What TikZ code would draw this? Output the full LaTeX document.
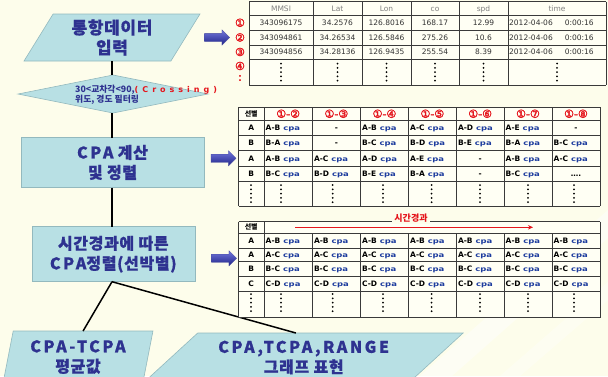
\documentclass[tikz,border=0pt]{standalone}
\usepackage{fontspec}
\setmainfont{DejaVu Sans}
\newfontfamily\kr{Noto Sans CJK KR}[LetterSpace=4, FakeBold=0.8]
\newfontfamily\lat{Noto Sans CJK KR}[LetterSpace=16, FakeBold=0.8]
\newfontfamily\krs{Noto Sans CJK KR}
\newfontfamily\dv{DejaVu Sans}
\newfontfamily\dvb{DejaVu Sans}[FakeBold=2.5]
\newfontfamily\dvsp{DejaVu Sans}[LetterSpace=50]
\newfontfamily\wide{DejaVu Sans}[FakeStretch=1.3]
\usetikzlibrary{shapes.geometric,shapes.arrows,calc,arrows.meta}
\definecolor{bg}{HTML}{FDFDEB}
\definecolor{cellbg}{HTML}{FFFFF4}
\definecolor{shapefill}{HTML}{B8E0E4}
\definecolor{shapeline}{HTML}{93B9BE}
\definecolor{navy}{HTML}{2E3290}
\definecolor{cpablue}{HTML}{1D3C9E}
\definecolor{redtxt}{HTML}{E5151C}
\definecolor{grid}{HTML}{3A3A3A}
\definecolor{arrowtop}{HTML}{7378DC}
\definecolor{arrowbot}{HTML}{1F2388}
\def\dashstr{-}
\def\mc{{238.5,264,312.3,360.5,408.5,456.3,504,552,600}}
\newcommand\cpa{\textcolor{cpablue}{\wide\bfseries\fontsize{6.5}{7}\selectfont cpa}}
\newcommand\cp[1]{#1\hspace{3pt}\cpa}
\newcommand\tabrow[3]{%
  \foreach \t [count=\c] in {#3} {%
    \pgfmathsetmacro\xl{\mc[\c]}%
    \pgfmathsetmacro\xr{\mc[\c+1]}%
    \edef\tmp{\t}%
    \ifx\tmp\dashstr
      \node[lbl] (#1-\c) at ({(\xl+\xr)/2},#2) {-};
    \else
      \node[cell] (#1-\c) at ({\xl+1.5},#2) {\cp{\t}};
    \fi
  }}
\newcommand\vdotsat[3]{%
  \foreach \k in {1,...,#3} {\fill[black] (#1,{#2+(\k-1)*4.3}) circle (1pt);}}
\begin{document}
\begin{tikzpicture}[x=1pt,y=-1pt,
  flowbox/.style={fill=shapefill, draw=shapeline, line width=0.6pt, outer sep=0pt},
  flowtext/.style={text=navy, font=\kr\bfseries\fontsize{16}{20}\selectfont, align=center, inner sep=0pt},
  link/.style={line width=1.5pt, black},
  blockarrow/.style={single arrow, minimum height=25pt, minimum width=15pt,
    single arrow head extend=3.5pt, single arrow head indent=0pt, inner xsep=0pt, inner ysep=4pt,
    top color=arrowtop, bottom color=arrowbot, draw=arrowbot!80, line width=0.3pt},
  gridline/.style={draw=grid, line width=0.9pt},
  hdr/.style={font=\dv\fontsize{7.5}{8}\selectfont, text=gray, inner sep=0pt, text height=5.5pt, text depth=0pt},
  num/.style={font=\dv\fontsize{7.5}{8}\selectfont, text=black!80, inner sep=0pt, text height=5.5pt, text depth=0pt},
  circnum/.style={font=\dvb\fontsize{11}{11}\selectfont, text=redtxt, inner sep=0pt},
  pair/.style={font=\dvb\fontsize{11}{11}\selectfont, text=redtxt, inner sep=0pt},
  lbl/.style={font=\dv\bfseries\fontsize{7.5}{8}\selectfont, inner sep=0pt, text height=5.5pt, text depth=0pt},
  cell/.style={anchor=west, inner sep=0pt, font=\dv\bfseries\fontsize{7.5}{8}\selectfont, text height=5.5pt, text depth=0pt},
  sel/.style={font=\krs\bfseries\fontsize{7}{8}\selectfont, inner sep=0pt},
]
\fill[bg] (0,0) rectangle (608,376);
\useasboundingbox (0,0) rectangle (608,376);
\clip (0,0) rectangle (608,376);
% faint background streaks
\fill[white, opacity=0.45] (420,376) -- (452,376) -- (608,238) -- (608,210) -- cycle;
\fill[white, opacity=0.35] (500,376) -- (520,376) -- (608,300) -- (608,282) -- cycle;

% ---------- flowchart shapes ----------
\node[flowbox, trapezium, trapezium left angle=61, trapezium right angle=119,
  trapezium stretches=true, minimum width=176pt, minimum height=47pt, flowtext,
  font=\kr\bfseries\fontsize{17}{20}\selectfont] (p1) at (112,37.5) {통항데이터\\입력};
\node[flowbox, diamond, minimum width=190pt, minimum height=38pt, inner sep=0pt] (d) at (113,94) {};
\node[anchor=west, align=left, inner sep=0pt, text=navy,
  font=\krs\bfseries\fontsize{8.8}{9.5}\selectfont] (dt) at (75,95)
  {30<교차각<90,{\dvsp\bfseries\fontsize{8}{9.5}\selectfont\color{redtxt}(Crossing)}\\위도, 경도 필터링};
\node[flowbox, rectangle, minimum width=183pt, minimum height=50pt, flowtext] (r1) at (112.5,162.5)
  {{\lat CPA} 계산\\및 정렬};
\node[flowbox, rectangle, minimum width=163pt, minimum height=55pt, flowtext] (r2) at (113.3,254.2)
  {시간경과에 따른\\{\lat CPA}정렬(선박별)};

% connectors
\draw[link] (p1.south) -- (p1.south |- d.north);
\draw[link] (d.south -| p1.south) -- (p1.south |- r1.north);
\draw[link] (p1.south |- r1.south) -- (p1.south |- r2.north);
\node[flowbox, trapezium, trapezium left angle=77.5, trapezium right angle=102.5,
  trapezium stretches=true, minimum width=150pt, minimum height=52pt, flowtext] (p3) at (78,357)
  {{\lat CPA-TCPA}\\평균값};
\node[flowbox, trapezium, trapezium left angle=38, trapezium right angle=142,
  trapezium stretches=true, minimum width=319pt, minimum height=49pt, flowtext] (p4) at (303.7,357.5)
  {{\lat CPA,TCPA,RANGE}\\그래프 표현};
\coordinate (r2b) at (p1.south |- r2.south);
\draw[link] (r2b) -- (p3.top side);
\draw[link] (r2b) -- ($(p4.top left corner)!0.37!(p4.top right corner)$);

% ---------- top table ----------
\fill[cellbg] (249,1.7) rectangle (606,85);
\foreach \y in {1.7,15,30,45,59.5,85} {\draw[gridline] (249,\y) -- (606,\y);}
\foreach \x in {249,313,362,411,459,508,606} {\draw[gridline] (\x,1.7) -- (\x,85);}
\foreach \x/\t [count=\i] in {281/MMSI,337.5/Lat,386.5/Lon,435/co,483.5/spd,557/time}
  {\node[hdr] (th\i) at (\x,8.3) {\t};}
\foreach \x/\t [count=\i] in {281/343096175,337.5/34.2576,386.5/126.8016,435/168.17,483.5/12.99}
  {\node[num] (ta\i) at (\x,22.5) {\t};}
\node[num,anchor=west] (ta6) at (509,22.5) {2012-04-06\hspace{12pt}0:00:16};
\foreach \x/\t [count=\i] in {281/343094861,337.5/34.26534,386.5/126.5846,435/275.26,483.5/10.6}
  {\node[num] (tb\i) at (\x,37.5) {\t};}
\node[num,anchor=west] (tb6) at (509,37.5) {2012-04-06\hspace{12pt}0:00:16};
\foreach \x/\t [count=\i] in {281/343094856,337.5/34.28136,386.5/126.9435,435/255.54,483.5/8.39}
  {\node[num] (tc\i) at (\x,52.2) {\t};}
\node[num,anchor=west] (tc6) at (509,52.2) {2012-04-06\hspace{12pt}0:00:16};
\foreach \x in {281,337.5,386.5,435,483.5,557} {\vdotsat{\x}{63.5}{5}}
\node[circnum] (n1) at (240,22.8) {①};
\node[circnum] (n2) at (240,37.5) {②};
\node[circnum] (n3) at (240,52) {③};
\node[circnum] (n4) at (240,66) {④};
\node[circnum] (n5) at (240,78) {:};

% ---------- middle table ----------
\fill[cellbg] (238.5,107.3) rectangle (600,206.3);
\foreach \y in {107.3,120.2,135.5,150.8,166.2,181.3,206.3} {\draw[gridline] (238.5,\y) -- (600,\y);}
\foreach \x in {238.5,264,312.3,360.5,408.5,456.3,504,552,600} {\draw[gridline] (\x,107.3) -- (\x,206.3);}
\node[sel] (ms) at (251.2,113.8) {선별};
\foreach \x/\t [count=\i] in {288.2/②,336.4/③,384.5/④,432.4/⑤,480.2/⑥,528/⑦,576/⑧}
  {\node[pair] (mh\i) at (\x,113.8) {①-\t};}
\node[lbl] (ml1) at (251.2,127.85) {A};
\node[lbl] (ml2) at (251.2,143.15) {B};
\node[lbl] (ml3) at (251.2,158.5) {A};
\node[lbl] (ml4) at (251.2,173.75) {B};
\tabrow{m1}{127.85}{A-B,-,A-B,A-C,A-D,A-E,-}
\tabrow{m2}{143.15}{B-A,-,B-C,B-D,B-E,B-A,B-C}
\tabrow{m3}{158.5}{A-B,A-C,A-D,A-E,-,A-B,A-C}
\tabrow{m4}{173.75}{B-C,B-D,B-E,B-A,-,B-C}
\node[lbl] (m4-7) at (576,173.75) {….};
\foreach \x in {251,281,332.7,383,431.6,480,528,574} {\vdotsat{\x}{185}{5}}

% ---------- bottom table ----------
\fill[cellbg] (238.5,221.5) rectangle (600,317.5);
\foreach \y in {221.5,233,248,261,276,291,317.5} {\draw[gridline] (238.5,\y) -- (600,\y);}
\foreach \x in {238.5,264,600} {\draw[gridline] (\x,221.5) -- (\x,317.5);}
\foreach \x in {312.3,360.5,408.5,456.3,504,552} {\draw[gridline] (\x,233) -- (\x,317.5);}
\node[sel] (bs) at (251.2,227.25) {선별};
\node[lbl] (bl1) at (251.2,240.5) {A};
\node[lbl] (bl2) at (251.2,254.5) {A};
\node[lbl] (bl3) at (251.2,268.5) {B};
\node[lbl] (bl4) at (251.2,283.5) {C};
\tabrow{b1}{240.5}{A-B,A-B,A-B,A-B,A-B,A-B,A-B}
\tabrow{b2}{254.5}{A-C,A-C,A-C,A-C,A-C,A-C,A-C}
\tabrow{b3}{268.5}{B-C,B-C,B-C,B-C,B-C,B-C,B-C}
\tabrow{b4}{283.5}{C-D,C-D,C-D,C-D,C-D,C-D,C-D}
\foreach \x in {251,281,332.7,383,431.6,480,528,574} {\vdotsat{\x}{294}{5}}
\coordinate (ts) at (295,227.3);
\coordinate (te) at (533,227.3);
\draw[redtxt, line width=1pt, -{Stealth[length=5pt,width=4.5pt]}] (ts) -- (te);
\node[fill=bg, inner sep=2pt, text=redtxt, font=\krs\bfseries\fontsize{9}{9}\selectfont] (tl) at (411,218) {시간경과};

% ---------- block arrows ----------
\node[blockarrow] (a1) at (215,37.5) {};
\node[blockarrow] (a2) at (221.5,158.3) {};
\node[blockarrow] (a3) at (222,258.3) {};
\end{tikzpicture}
\end{document}
